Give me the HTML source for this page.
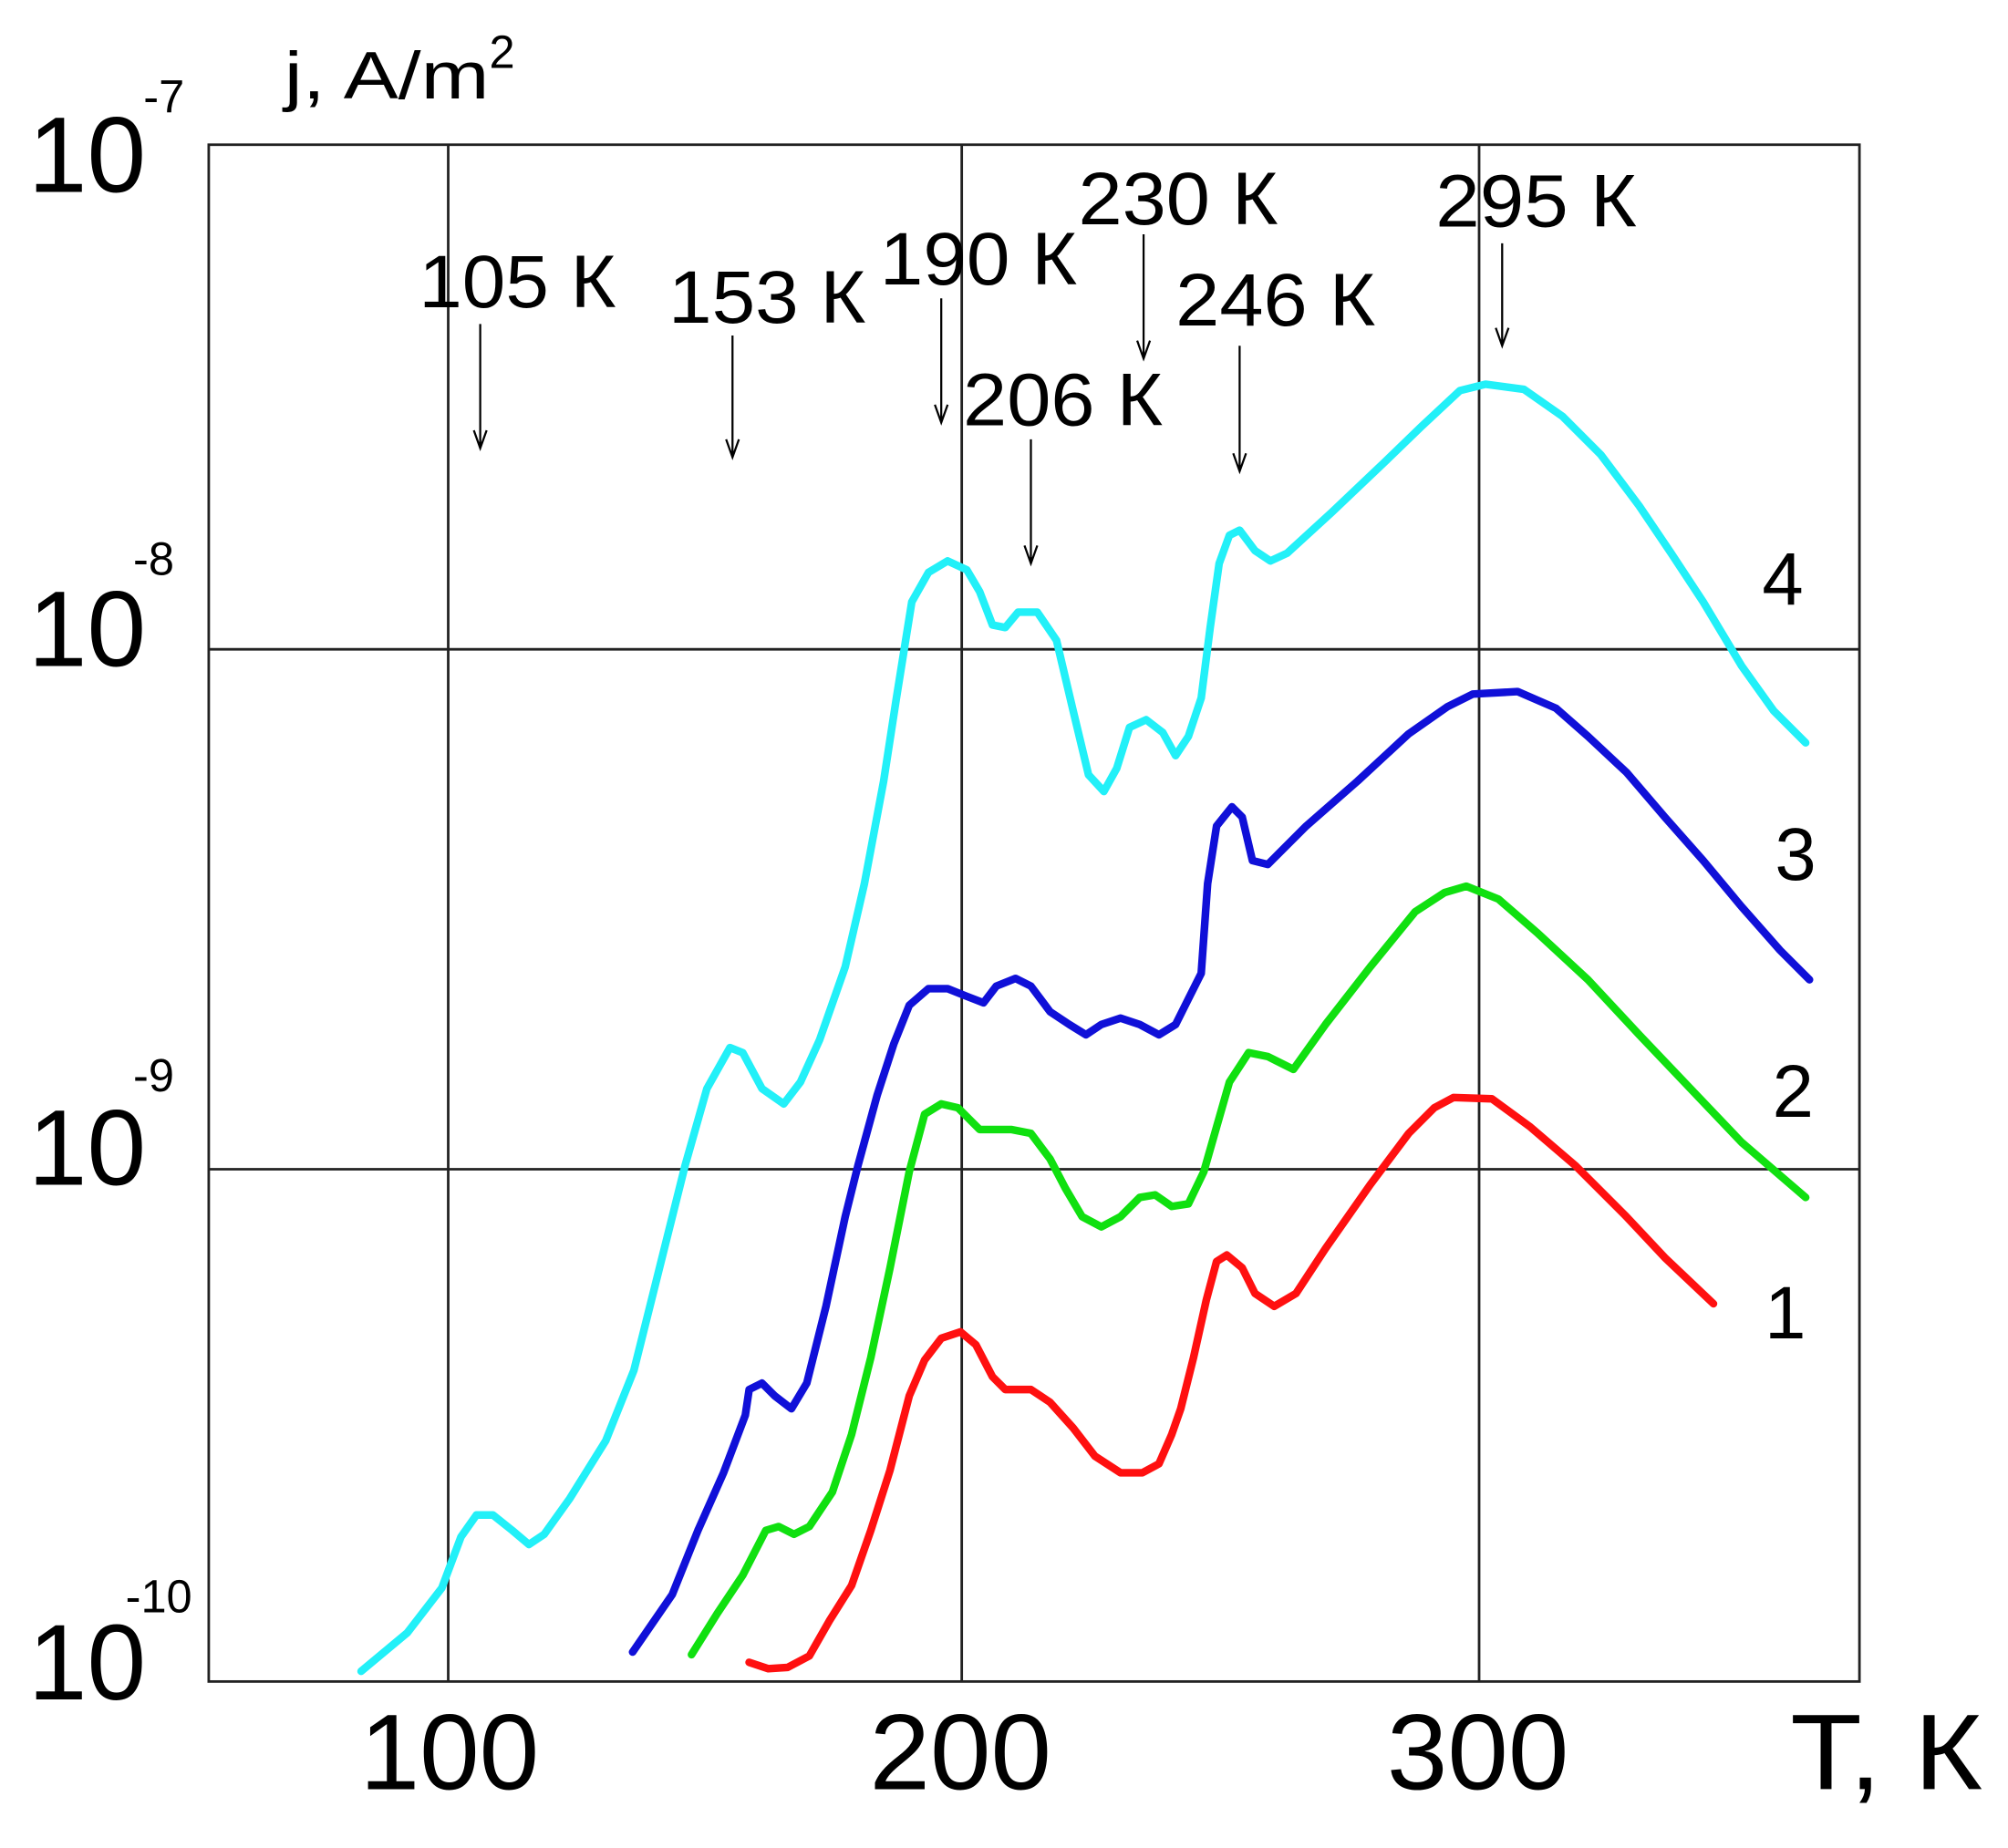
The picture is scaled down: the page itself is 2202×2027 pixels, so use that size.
<!DOCTYPE html>
<html><head><meta charset="utf-8"><style>
html,body{margin:0;padding:0;background:#fff;}
svg{display:block;}
text{font-family:"Liberation Sans",Arial,sans-serif;fill:#000;}
</style></head><body>
<svg width="2202" height="2027" viewBox="0 0 1568 1443" preserveAspectRatio="none" xmlns="http://www.w3.org/2000/svg">
<g stroke="#222" stroke-width="2" fill="none">
<rect x="163" y="113" width="1289" height="1200"/>
<line x1="350" y1="113" x2="350" y2="1313"/>
<line x1="751" y1="113" x2="751" y2="1313"/>
<line x1="1155" y1="113" x2="1155" y2="1313"/>
<line x1="163" y1="507" x2="1452" y2="507"/>
<line x1="163" y1="913" x2="1452" y2="913"/>
</g>
<g stroke="#000" stroke-width="1.6" fill="none">
<path d="M375,253 V350 M370,336 L375,350 L380,336"/>
<path d="M572,262 V357 M567,343 L572,357 L577,343"/>
<path d="M735,233 V330 M730,316 L735,330 L740,316"/>
<path d="M805,343 V440 M800,426 L805,440 L810,426"/>
<path d="M893,183 V280 M888,266 L893,280 L898,266"/>
<path d="M968,270 V368 M963,354 L968,368 L973,354"/>
<path d="M1173,190 V270 M1168,256 L1173,270 L1178,256"/>
</g>
<g font-size="58">
<text x="327" y="240" textLength="154" lengthAdjust="spacingAndGlyphs">105 К</text>
<text x="522" y="252" textLength="154" lengthAdjust="spacingAndGlyphs">153 К</text>
<text x="687" y="222" textLength="154" lengthAdjust="spacingAndGlyphs">190 К</text>
<text x="752" y="332" textLength="156" lengthAdjust="spacingAndGlyphs">206 К</text>
<text x="842" y="175" textLength="156" lengthAdjust="spacingAndGlyphs">230 К</text>
<text x="918" y="254" textLength="156" lengthAdjust="spacingAndGlyphs">246 К</text>
<text x="1121" y="177" textLength="157" lengthAdjust="spacingAndGlyphs">295 К</text>
<text x="1376" y="472">4</text>
<text x="1386" y="687">3</text>
<text x="1384" y="872">2</text>
<text x="1378" y="1045">1</text>
</g>
<g font-size="84">
<text x="281" y="1397" textLength="140" lengthAdjust="spacingAndGlyphs">100</text>
<text x="679" y="1397" textLength="142" lengthAdjust="spacingAndGlyphs">200</text>
<text x="1083" y="1397" textLength="142" lengthAdjust="spacingAndGlyphs">300</text>
<text x="1398" y="1397" textLength="150" lengthAdjust="spacingAndGlyphs">T, К</text>
<text x="22" y="150" textLength="92" lengthAdjust="spacingAndGlyphs">10</text>
<text x="22" y="520" textLength="92" lengthAdjust="spacingAndGlyphs">10</text>
<text x="22" y="925" textLength="92" lengthAdjust="spacingAndGlyphs">10</text>
<text x="22" y="1327" textLength="92" lengthAdjust="spacingAndGlyphs">10</text>
</g>
<g font-size="36">
<text x="112" y="88">-7</text>
<text x="104" y="449">-8</text>
<text x="104" y="852">-9</text>
<text x="98" y="1259">-10</text>
<text x="382" y="53">2</text>
</g>
<text x="222" y="77" font-size="52" textLength="160" lengthAdjust="spacingAndGlyphs">j, A/m</text>
<g fill="none" stroke-width="6" stroke-linejoin="round" stroke-linecap="round">
<polyline stroke="#22f0f8" points="282,1305 318,1275 345,1240 360,1200 372,1183 385,1183 400,1195 413,1206 425,1198 445,1170 473,1125 495,1070 515,990 535,910 552,850 570,818 580,822 595,850 612,862 625,845 640,812 660,755 675,690 690,610 700,545 712,470 725,447 740,438 755,445 765,462 775,488 785,490 795,478 810,478 825,500 838,555 850,605 862,618 872,600 882,568 895,562 908,572 918,590 928,575 938,545 945,490 952,440 960,418 968,414 980,430 992,438 1005,432 1040,400 1080,362 1110,333 1140,305 1160,300 1190,304 1220,325 1250,355 1280,395 1305,432 1330,470 1360,520 1385,555 1410,580"/>
<polyline stroke="#1010d8" points="494,1290 525,1245 545,1195 565,1150 582,1105 585,1085 595,1080 605,1090 618,1100 630,1080 645,1020 660,950 670,910 685,855 698,815 710,785 725,772 740,772 755,778 768,783 778,770 793,764 805,770 820,790 835,800 848,808 860,800 875,795 890,800 905,808 918,800 928,780 938,760 943,690 950,645 962,630 970,638 978,672 990,675 1020,645 1060,610 1100,573 1130,552 1150,542 1185,540 1215,553 1240,575 1270,603 1300,638 1330,672 1360,708 1390,742 1413,765"/>
<polyline stroke="#10e010" points="540,1292 560,1260 580,1230 598,1195 608,1192 620,1198 632,1192 650,1165 665,1120 680,1060 695,990 710,915 722,870 735,862 748,865 765,882 790,882 805,885 820,905 832,928 845,950 860,958 875,950 890,935 902,933 915,942 928,940 940,915 950,880 960,845 975,822 990,825 1010,835 1035,800 1070,755 1105,712 1128,697 1145,692 1170,702 1200,728 1240,765 1280,808 1320,850 1360,892 1410,935"/>
<polyline stroke="#ff1010" points="585,1298 600,1303 615,1302 632,1293 648,1265 665,1238 680,1195 695,1148 710,1090 722,1062 735,1045 750,1040 762,1050 775,1075 785,1085 805,1085 820,1095 838,1115 855,1137 875,1150 892,1150 905,1143 915,1120 922,1100 932,1060 942,1015 950,985 958,980 970,990 980,1010 995,1020 1012,1010 1035,975 1070,925 1100,885 1120,865 1135,857 1165,858 1195,880 1230,910 1270,950 1300,982 1338,1018"/>
</g>
</svg>
</body></html>
